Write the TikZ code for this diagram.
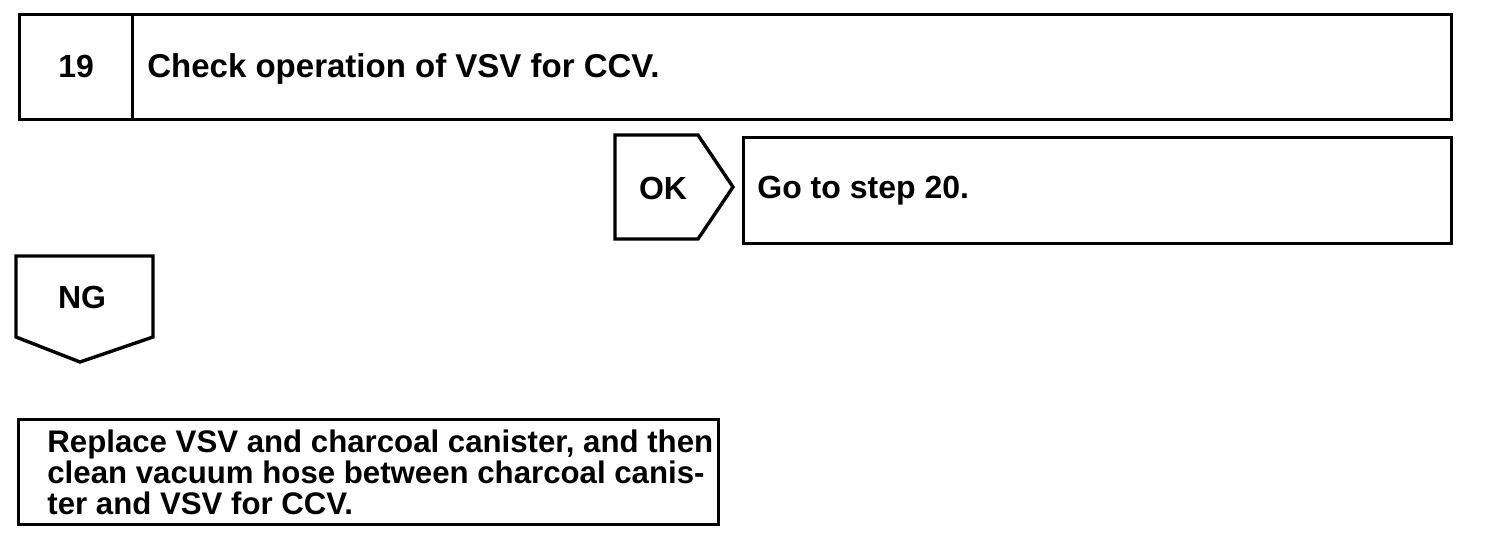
\documentclass[tikz,border=0pt]{standalone}
\usepackage{fontspec}
\setmainfont{Liberation Sans}
\usetikzlibrary{positioning}
\tikzset{
  frame/.style={draw=black,line width=1.7pt},
  tag/.style={frame,line join=miter},
  label/.style={font=\bfseries\fontsize{16}{16}\selectfont,inner sep=0pt},
  note/.style={font=\bfseries\fontsize{15.6}{15.5}\selectfont,inner sep=0pt,align=left}
}
\newcommand{\panel}[5]{%
  \node[frame,anchor=north west,inner sep=0pt,
    minimum width=#4*.5pt,minimum height=#5*.5pt] (#1) at (#2,#3) {};
}

\begin{document}
\begin{tikzpicture}[x=.5pt,y=-.5pt]
  \useasboundingbox (0,0) rectangle (1504,548);

  % Step heading.
  \panel{num}{18}{13}{113}{105}
  \panel{chk}{131}{13}{1319}{105}
  \node[label,anchor=base] (numtxt) at (num.center |- 0,77) {19};
  \node[label,anchor=base west,font=\bfseries\fontsize{16.5}{16}\selectfont]
    (chktxt) at ([xshift=8pt]chk.west |- numtxt.base) {Check operation of VSV for CCV.};

  % OK branch.
  \draw[tag] (615,135) -- (698,135) -- (733,187) -- (698,239) -- (615,239) -- cycle;
  \node[label] (ok) at (663,188) {OK};
  \panel{goto}{742}{136}{708}{106}
  \node[label,anchor=west] (gototxt) at ([xshift=7.5pt]goto.west) {Go to step 20.};

  % NG branch.
  \draw[tag] (16,256) -- (153,256) -- (153,337) -- (80,362) -- (16,337) -- cycle;
  \node[label] (ng) at (82,297) {NG};
  \panel{fix}{17}{418}{700}{105}
  \node[note,anchor=west] (fixtxt) at ([xshift=15pt]fix.west)
    {Replace VSV and charcoal canister, and then\\
     clean vacuum hose between charcoal canis-\\
     ter and VSV for CCV.};
\end{tikzpicture}
\end{document}
